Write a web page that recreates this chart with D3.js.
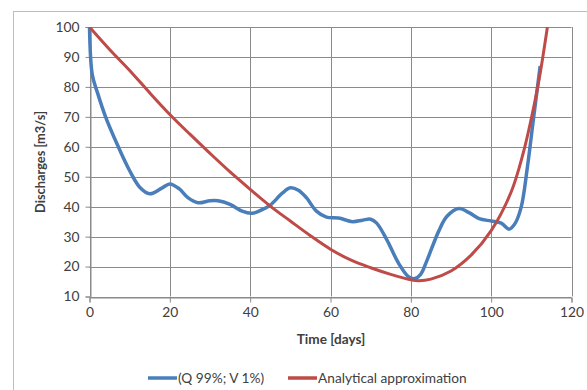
<!DOCTYPE html>
<html>
<head>
<meta charset="utf-8">
<script src="https://cdn.jsdelivr.net/npm/d3@7"></script>
<style>
  body { margin: 0; background: #fff; }
  text { font-family: Lato, "Open Sans", sans-serif; fill: #404040; }
</style>
</head>
<body>
<div id="chart"></div>
<script>
// Data
const xTicks = [0, 20, 40, 60, 80, 100, 120];
const yTicks = [10, 20, 30, 40, 50, 60, 70, 80, 90, 100];

// (Q 99%; V 1%) series
const blueDays = [0, 0.7, 2, 4, 7, 10, 12.5, 15, 18, 20, 22.3, 24.5, 27, 30, 32, 35, 38, 40.5, 43, 45, 48, 50, 52, 54, 56.5, 59, 62, 65.5, 68, 70, 71.5, 74, 77, 79.5, 81, 82.5, 84, 87, 89, 92, 94.5, 97, 100, 102.5, 104.5, 106, 107.5, 109, 110.5, 112.2];
const blueQ = [100, 84, 78, 70, 60.5, 52, 46.5, 44.3, 46.2, 47.6, 46, 43, 41.3, 42, 42, 40.8, 38.5, 37.8, 39, 40.5, 44.5, 46.3, 45.5, 43, 38.5, 36.5, 36.2, 35, 35.5, 35.8, 34.5, 29, 21, 16.5, 16, 17.5, 22, 32, 36.8, 39.4, 38, 36, 35.2, 34.5, 32.5, 34.5, 40, 53, 69, 87];

// Analytical approximation
const redDays = [0, 5, 10, 15, 20, 25, 30, 35, 40, 45, 50, 55, 60, 65, 70, 75, 80, 82, 85, 90, 95, 100, 105, 108, 110, 112, 114];
const redQ = [100, 92.5, 85.5, 78, 70.8, 64.2, 57.8, 51.6, 45.8, 40.2, 35.2, 30.3, 25.8, 22.2, 19.6, 17.4, 15.6, 15.3, 15.8, 18.5, 23.8, 32, 45, 58, 69.5, 83, 100];

const seriesNames = ["(Q 99%; V 1%)", "Analytical approximation"];
const colors = ["#4a7ebb", "#be4b48"];

const width = 587;
const height = 390;
const margin = { top: 27, right: 15.5, bottom: 93.5, left: 89.5 };

const svg = d3.select("#chart")
  .append("svg")
  .attr("width", width)
  .attr("height", height);

// outer chart frame
svg.append("rect")
  .attr("x", 13.5)
  .attr("y", 11.5)
  .attr("width", width)
  .attr("height", height)
  .attr("fill", "none")
  .attr("stroke", "#bdbdbd");

const xScale = d3.scaleLinear()
  .domain([0, 120])
  .range([margin.left, width - margin.right]);

const yScale = d3.scaleLinear()
  .domain([10, 100])
  .range([height - margin.bottom, margin.top]);

// gridlines
svg.append("g")
  .selectAll("line")
  .data(yTicks)
  .enter()
  .append("line")
  .attr("x1", xScale(0))
  .attr("x2", xScale(120))
  .attr("y1", d => Math.round(yScale(d)) + 0.5)
  .attr("y2", d => Math.round(yScale(d)) + 0.5)
  .attr("stroke", "#8a8a8a");

svg.append("g")
  .selectAll("line")
  .data(xTicks)
  .enter()
  .append("line")
  .attr("x1", d => Math.round(xScale(d)) + 0.5)
  .attr("x2", d => Math.round(xScale(d)) + 0.5)
  .attr("y1", yScale(100))
  .attr("y2", yScale(10))
  .attr("stroke", "#8a8a8a");

// axes
const xAxis = svg.append("g")
  .attr("transform", `translate(0,${Math.round(yScale(10)) + 0.5})`)
  .call(d3.axisBottom(xScale).tickValues(xTicks).tickSize(5).tickPadding(5));

const yAxis = svg.append("g")
  .attr("transform", `translate(${Math.round(xScale(0)) + 0.5},0)`)
  .call(d3.axisLeft(yScale).tickValues(yTicks).tickSize(5).tickPadding(6));

[xAxis, yAxis].forEach(a => {
  a.selectAll("path, line").attr("stroke", "#8a8a8a");
  a.selectAll("text").attr("font-size", "13.8px").attr("font-family", "Lato, sans-serif").attr("fill", "#404040");
});

// clip to plot area
svg.append("clipPath")
  .attr("id", "plot")
  .append("rect")
  .attr("x", xScale(0) - 3)
  .attr("y", yScale(100))
  .attr("width", xScale(120) - xScale(0) + 3)
  .attr("height", yScale(10) - yScale(100) + 3);

const line = d3.line()
  .x(d => xScale(d[0]))
  .y(d => yScale(d[1]))
  .curve(d3.curveCatmullRom.alpha(0.5));

const blue = blueDays.map((d, i) => [d, blueQ[i]]);
const red = redDays.map((d, i) => [d, redQ[i]]);

svg.append("path")
  .datum(blue)
  .attr("clip-path", "url(#plot)")
  .attr("d", line)
  .attr("fill", "none")
  .attr("stroke", colors[0])
  .attr("stroke-width", 3.5)
  .attr("stroke-linejoin", "round");

svg.append("path")
  .datum(red)
  .attr("clip-path", "url(#plot)")
  .attr("d", line)
  .attr("fill", "none")
  .attr("stroke", colors[1])
  .attr("stroke-width", 3)
  .attr("stroke-linejoin", "round");

// axis titles
svg.append("text")
  .attr("x", 331)
  .attr("y", 343.5)
  .attr("text-anchor", "middle")
  .attr("font-size", "13.6px")
  .attr("font-weight", "bold")
  .text("Time [days]");

svg.append("text")
  .attr("transform", "translate(45,162) rotate(-90)")
  .attr("text-anchor", "middle")
  .attr("font-size", "12.8px")
  .attr("font-weight", "bold")
  .text("Discharges [m3/s]");

// legend
const legendX = [148, 288];
const legend = svg.append("g")
  .selectAll("g")
  .data(seriesNames)
  .enter()
  .append("g")
  .attr("transform", (d, i) => `translate(${legendX[i]},378)`);

legend.append("line")
  .attr("x1", 0)
  .attr("x2", 29)
  .attr("stroke", (d, i) => colors[i])
  .attr("stroke-width", 3.5);

legend.append("text")
  .attr("x", 30)
  .attr("dy", "0.35em")
  .attr("font-size", "13.7px")
  .text(d => d);
</script>
</body>
</html>
